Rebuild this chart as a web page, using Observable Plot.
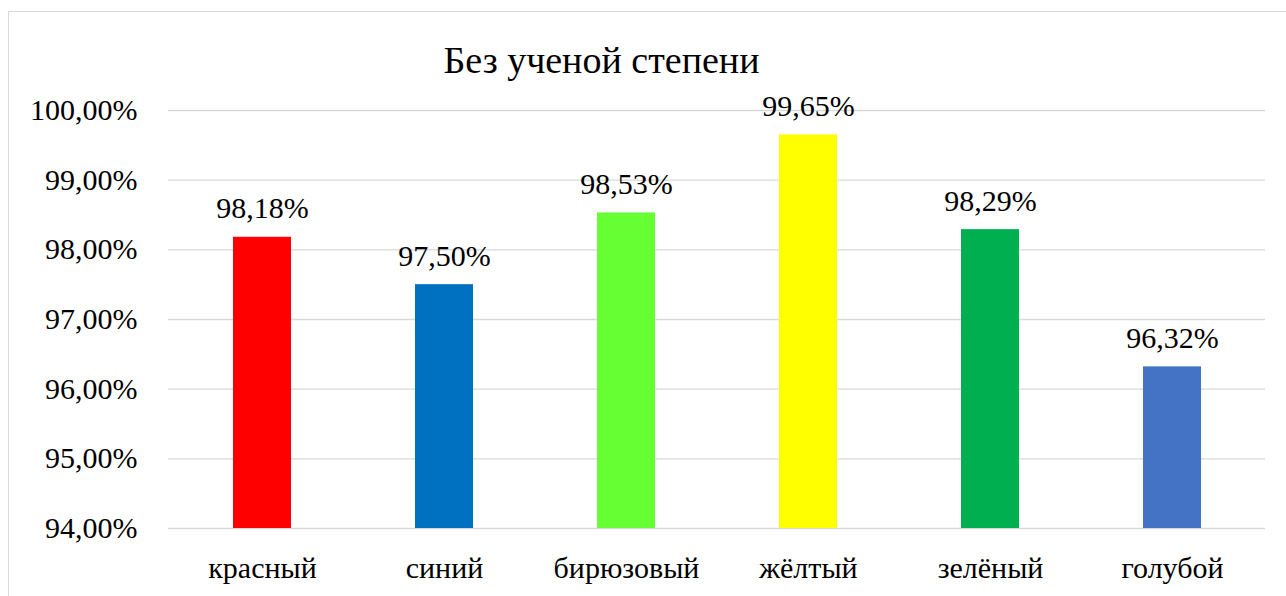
<!DOCTYPE html>
<html>
<head>
<meta charset="utf-8">
<script src="https://cdn.jsdelivr.net/npm/d3@7"></script>
<script src="https://cdn.jsdelivr.net/npm/@observablehq/plot@0.6"></script>
<style>
  html, body { margin: 0; padding: 0; background: #fff; }
  #wrap { position: relative; width: 1286px; height: 596px; overflow: hidden; font-family: "Liberation Serif", serif; }
  #frame { position: absolute; left: 8px; top: 11px; width: 1400px; height: 700px; border: 1.5px solid #d9d9d9; box-sizing: border-box; }
  #title { position: absolute; left: 0; top: 38px; width: 1203px; text-align: center; font-size: 38px; line-height: 44px; color: #000; }
  #chart { position: absolute; left: 0; top: 0; }
  #chart svg, #chart svg text { font-family: "Liberation Serif", serif !important; }
</style>
</head>
<body>
<div id="wrap">
  <div id="frame"></div>
  <div id="title">Без ученой степени</div>
  <div id="chart"></div>
</div>
<script>
const categories = ["красный", "синий", "бирюзовый", "жёлтый", "зелёный", "голубой"];
const values = [98.18, 97.50, 98.53, 99.65, 98.29, 96.32];
const colors = ["#ff0000", "#0070c0", "#66ff33", "#ffff00", "#00b050", "#4472c4"];
const yTicks = [94, 95, 96, 97, 98, 99, 100];

const data = categories.map((c, i) => ({ cat: c, value: values[i], color: colors[i] }));
const fmt = d => d.toFixed(2).replace(".", ",") + "%";
const FONT = "Liberation Serif";

const chart = Plot.plot({
  width: 1286,
  height: 596,
  marginLeft: 168,
  marginRight: 21,
  marginTop: 110,
  marginBottom: 68,
  style: "font-family: 'Liberation Serif', serif; font-size: 30px; color: #000; background: transparent; overflow: visible;",
  x: { domain: categories, paddingInner: 0.683, paddingOuter: 0.3415, align: 0.5, label: null },
  y: { domain: [94, 100], label: null },
  marks: [
    Plot.gridY(yTicks, { stroke: "#d9d9d9", strokeOpacity: 1, strokeWidth: 1.4 }),
    Plot.barY(data, { x: "cat", y1: 94, y2: "value", fill: "color" }),
    Plot.axisY(yTicks, { tickSize: 0, tickPadding: 31, tickFormat: fmt, fontSize: 30, fontFamily: FONT, fill: "#000" }),
    Plot.axisX({ tickSize: 0, tickPadding: 28, fontSize: 30, fontFamily: FONT, fill: "#000" }),
    Plot.text(data, { x: "cat", y: "value", text: d => fmt(d.value), lineAnchor: "bottom", dy: -19, fontSize: 30, fontFamily: FONT, fill: "#000" })
  ]
});
document.getElementById("chart").appendChild(chart);
</script>
</body>
</html>
